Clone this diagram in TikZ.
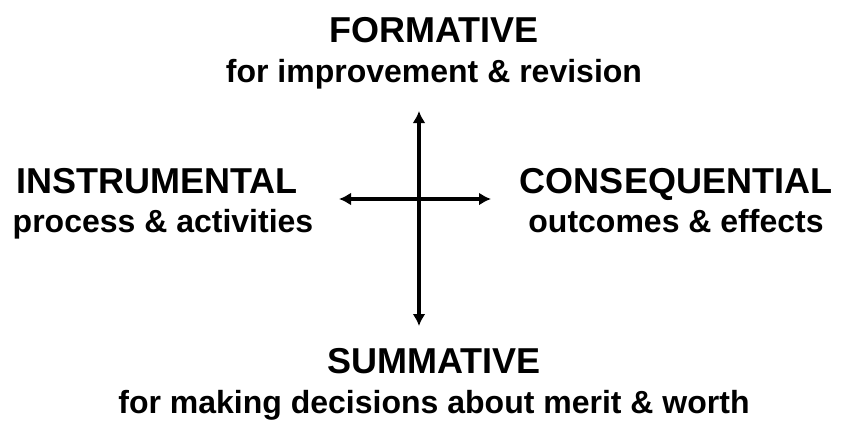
\documentclass[tikz,border=0pt]{standalone}
\usepackage{fontspec}
\setmainfont{Liberation Sans}
\usetikzlibrary{arrows.meta}

\begin{document}
\begin{tikzpicture}[x=1pt, y=-1pt,
  head/.style={font=\bfseries\fontsize{36}{40}\selectfont, inner sep=0pt, anchor=base},
  sub/.style={font=\bfseries\fontsize{32}{36}\selectfont, inner sep=0pt, anchor=base},
  axis/.style={line width=3.5pt, {Latex[length=12pt,width=13pt]}-{Latex[length=12pt,width=13pt]}}]
  \useasboundingbox (0,0) rectangle (847,421);

  % the two axes
  \coordinate (top) at (419,111);
  \coordinate (bot) at (419,326);
  \coordinate (lft) at (339,199);
  \coordinate (rgt) at (491,199);
  \draw[axis] (bot) -- (top);
  \draw[axis] (lft) -- (rgt);

  % labels
  \node[head] (form) at (434,42) {FORMATIVE};
  \node[sub] (formsub) at (434,82) {for improvement \& revision};

  \node[head] (instr) at (157,193) {INSTRUMENTAL};
  \node[sub] (instrsub) at (163,232) {process \& activities};

  \node[head] (cons) at (676,193) {CONSEQUENTIAL};
  \node[sub] (conssub) at (676,232) {outcomes \& effects};

  \node[head] (summ) at (434,373) {SUMMATIVE};
  \node[sub] (summsub) at (434,413) {for making decisions about merit \& worth};
\end{tikzpicture}
\end{document}
